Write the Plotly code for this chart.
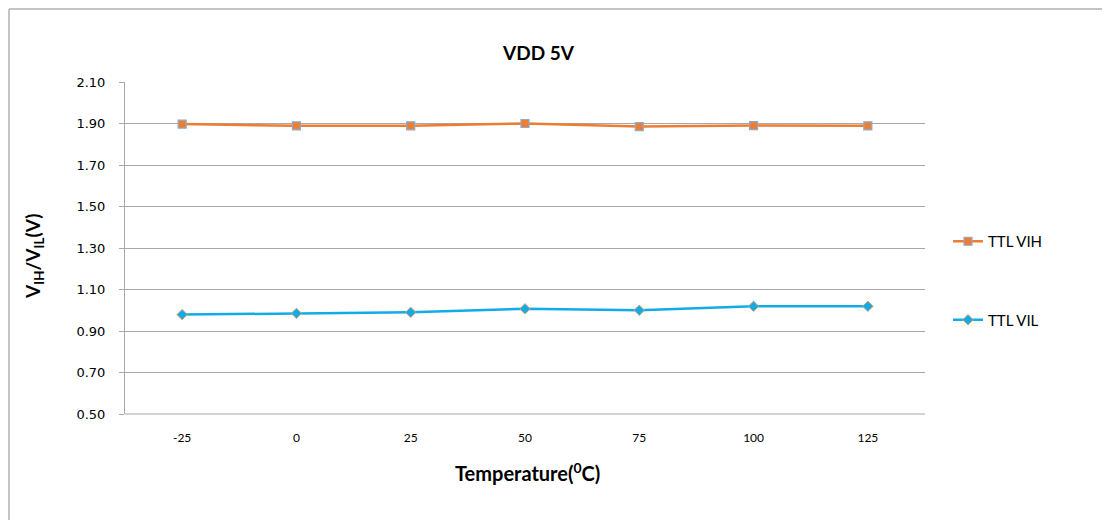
import plotly.graph_objects as go

temps = ["-25", "0", "25", "50", "75", "100", "125"]
vih = [1.897, 1.889, 1.889, 1.900, 1.885, 1.890, 1.889]
vil = [0.979, 0.985, 0.990, 1.007, 1.000, 1.019, 1.019]
yticks = [0.50, 0.70, 0.90, 1.10, 1.30, 1.50, 1.70, 1.90, 2.10]

fig = go.Figure()
fig.add_trace(go.Scatter(
    x=temps, y=vih, mode="lines+markers", name="TTL VIH",
    line=dict(color="#ED7D31", width=2.5),
    marker=dict(symbol="square", size=8, color="#ED7D31",
                line=dict(color="#8FAACC", width=1.2)),
    legendgroup="a",
))
fig.add_trace(go.Scatter(
    x=temps, y=vil, mode="lines+markers", name="TTL VIL",
    line=dict(color="#11ACE8", width=2.5),
    marker=dict(symbol="diamond", size=8, color="#11ACE8",
                line=dict(color="#D9A070", width=1)),
    legendgroup="b",
))

OFF = 8  # page body margin
W, H = 1110, 520
L, R, T, B = 125 - OFF, 185 + OFF, 82 - OFF, 106 + OFF
pw, ph = W - L - R, H - T - B

def px(x):
    return (x - OFF - L) / pw

def py(y):
    return (H - B - (y - OFF)) / ph

fig.update_layout(
    width=W, height=H,
    margin=dict(l=L, r=R, t=T, b=B),
    paper_bgcolor="white", plot_bgcolor="white",
    font=dict(family="Lato, DejaVu Sans", color="#000000"),
    showlegend=True,
    legend=dict(x=px(948), y=py(225), xanchor="left", yanchor="top",
                font=dict(size=15, family="Lato"), tracegroupgap=56,
                traceorder="grouped", itemwidth=30,
                bgcolor="rgba(0,0,0,0)"),
    xaxis=dict(type="category", range=[-0.5, len(temps) - 0.5],
               showgrid=False, showline=False,
               ticks="outside", ticklen=13, tickcolor="rgba(0,0,0,0)",
               tickfont=dict(size=12, family="Lato"),
               zeroline=False),
    yaxis=dict(range=[0.5, 2.1], tickvals=yticks,
               ticktext=[f"{v:.2f}" for v in yticks],
               showgrid=True, gridcolor="#A8A8A8", gridwidth=1,
               showline=True, linecolor="#A8A8A8", linewidth=1,
               ticks="outside", ticklen=5, tickcolor="#A8A8A8",
               ticklabelstandoff=11,
               tickfont=dict(size=13, family="DejaVu Sans"), zeroline=False),
    shapes=[
        dict(type="line", xref="paper", yref="paper",
             x0=px(9), x1=px(1120), y0=py(9), y1=py(9),
             line=dict(color="#B0B0B0", width=1.5)),
        dict(type="line", xref="paper", yref="paper",
             x0=px(9), x1=px(9), y0=py(9), y1=py(530),
             line=dict(color="#B0B0B0", width=1.5)),
        dict(type="line", xref="paper", yref="paper",
             x0=0, x1=1, y0=0, y1=0,
             line=dict(color="#A8A8A8", width=1)),
    ],
    annotations=[
        dict(text="<b>VDD 5V</b>", xref="paper", yref="paper",
             x=px(538), y=py(52), showarrow=False, xanchor="center", yanchor="middle",
             font=dict(size=19, family="Lato")),
        dict(text="<b>Temperature(<sup>0</sup>C)</b>", xref="paper", yref="paper",
             x=px(527), y=py(472), showarrow=False, xanchor="center", yanchor="middle",
             font=dict(size=20, family="Lato")),
        dict(text="<b>V<sub>IH</sub>/V<sub>IL</sub>(V)</b>", xref="paper", yref="paper",
             x=px(34), y=py(257), showarrow=False, textangle=-90,
             xanchor="center", yanchor="middle",
             font=dict(size=19, family="Lato")),
    ],
)

fig.write_html("out.html")
